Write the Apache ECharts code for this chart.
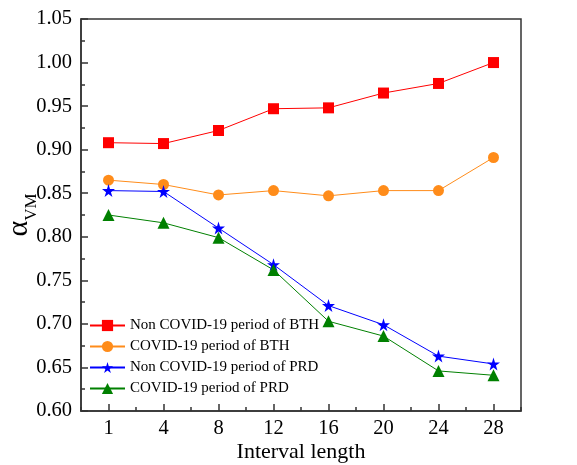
<!DOCTYPE html>
<html>
<head>
<meta charset="utf-8">
<script src="https://cdn.jsdelivr.net/npm/echarts@6/dist/echarts.min.js"></script>
<style>html,body{margin:0;padding:0;background:#fff}#c{width:577px;height:465px}</style>
</head>
<body>
<div id="c"></div>
<script>
var categories = ['1', '4', '8', '12', '16', '20', '24', '28'];
var seriesNames = ['Non COVID-19 period of BTH', 'COVID-19 period of BTH', 'Non COVID-19 period of PRD', 'COVID-19 period of PRD'];
var nonCovidBTH = [0.908, 0.907, 0.922, 0.947, 0.948, 0.965, 0.976, 1.000];
var covidBTH = [0.865, 0.860, 0.848, 0.853, 0.847, 0.853, 0.853, 0.891];
var nonCovidPRD = [0.853, 0.852, 0.810, 0.768, 0.721, 0.699, 0.663, 0.654];
var covidPRD = [0.825, 0.816, 0.799, 0.762, 0.703, 0.686, 0.646, 0.641];
var yTicks = { min: 0.60, max: 1.05, interval: 0.05 };

var FONT = '"Liberation Serif", "Times New Roman", serif';
var STAR = 'path://M50,0 L61,35 L98,35 L68,57 L79,91 L50,70 L21,91 L32,57 L2,35 L39,35 Z';
var axisColor = '#333';

function mk(name, data, color, symbol, size) {
  return {
    name: name, type: 'line', data: data, xAxisIndex: 0,
    symbol: symbol, symbolSize: size, showAllSymbol: true,
    lineStyle: { color: color, width: 1 },
    itemStyle: { color: color },
    animation: false
  };
}

var chart = echarts.init(document.getElementById('c'));
chart.setOption({
  animation: false,
  grid: { left: 81, right: 56, top: 19, bottom: 54, outerBoundsMode: 'none', containLabel: false, show: true, borderColor: axisColor, borderWidth: 1.5, backgroundColor: 'transparent' },
  legend: {
    orient: 'vertical', left: 89, top: 317, padding: 0,
    itemWidth: 35, itemHeight: 14, itemGap: 4,
    textStyle: { fontFamily: FONT, fontSize: 15, color: '#000', lineHeight: 17 },
    data: seriesNames
  },
  xAxis: [{
    type: 'category', data: categories, position: 'bottom',
    axisLine: { lineStyle: { color: axisColor, width: 1.5 } },
    axisTick: { show: true, inside: true, alignWithLabel: true, length: 7, lineStyle: { color: axisColor, width: 1.5 } },
    axisLabel: { fontFamily: FONT, fontSize: 20.5, color: '#000', margin: 7 },
    name: 'Interval length', nameLocation: 'middle', nameGap: 30, nameMoveOverlap: false,
    nameTextStyle: { fontFamily: FONT, fontSize: 22, color: '#000' }
  }, {
    type: 'category', data: categories, position: 'bottom',
    axisLine: { show: false },
    axisTick: { show: true, inside: true, alignWithLabel: false, length: 4, lineStyle: { color: axisColor, width: 1.5 } },
    axisLabel: { show: false }
  }],
  yAxis: {
    type: 'value', min: yTicks.min, max: yTicks.max, interval: yTicks.interval,
    axisLine: { show: true, lineStyle: { color: axisColor, width: 1.5 } },
    axisTick: { show: true, inside: true, length: 7, lineStyle: { color: axisColor, width: 1.5 } },
    minorTick: { show: true, splitNumber: 2, length: 4, lineStyle: { color: axisColor, width: 1.5 } },
    splitLine: { show: false },
    axisLabel: { fontFamily: FONT, fontSize: 20.5, color: '#000', margin: 9, formatter: function (v) { return v.toFixed(2); } },
    name: '{a|α}{s|VM}', nameLocation: 'middle', nameGap: 47, nameMoveOverlap: false,
    nameTextStyle: {
      fontFamily: FONT, color: '#000',
      rich: {
        a: { fontFamily: FONT, fontSize: 30, color: '#000', lineHeight: 30, verticalAlign: 'bottom' },
        s: { fontFamily: FONT, fontSize: 17, color: '#000', lineHeight: 17, verticalAlign: 'bottom', padding: [0, 0, -6, 0] }
      }
    }
  },
  series: [
    mk(seriesNames[0], nonCovidBTH, '#ff0000', 'rect', 11),
    mk(seriesNames[1], covidBTH, '#ff8c1a', 'circle', 11),
    mk(seriesNames[2], nonCovidPRD, '#0000ff', STAR, 13),
    mk(seriesNames[3], covidPRD, '#008000', 'triangle', 12)
  ]
});
</script>
</body>
</html>
